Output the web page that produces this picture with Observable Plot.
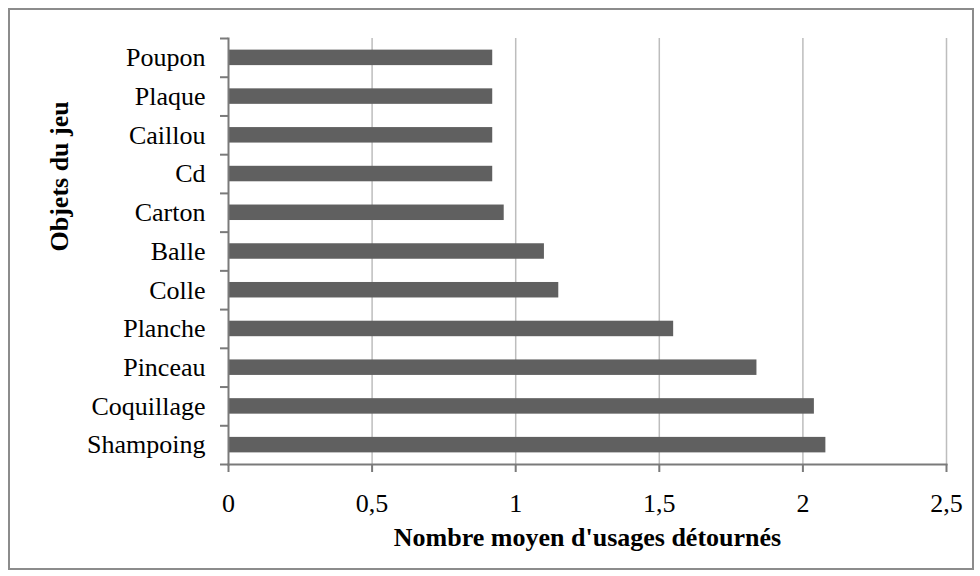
<!DOCTYPE html>
<html>
<head>
<meta charset="utf-8">
<script src="https://cdn.jsdelivr.net/npm/d3@7"></script>
<script src="https://cdn.jsdelivr.net/npm/@observablehq/plot@0.6"></script>
<style>
  html, body { margin: 0; padding: 0; background: #fff; }
  #wrap { position: relative; width: 980px; height: 576px; }
  #border { position: absolute; left: 8px; top: 8px; width: 962px; height: 558px; border: 2px solid #8c8c8c; pointer-events: none; }
  svg text { font-family: "Liberation Serif", "Times New Roman", serif !important; }
</style>
</head>
<body>
<div id="wrap"><div id="border"></div></div>
<script>
const categories = ["Poupon", "Plaque", "Caillou", "Cd", "Carton", "Balle", "Colle", "Planche", "Pinceau", "Coquillage", "Shampoing"];
const values = [0.92, 0.92, 0.92, 0.92, 0.96, 1.10, 1.15, 1.55, 1.84, 2.04, 2.08];
const xTicks = [0, 0.5, 1, 1.5, 2, 2.5];
const xTitle = "Nombre moyen d'usages détournés";
const yTitle = "Objets du jeu";

const data = categories.map((c, i) => ({ cat: c, value: values[i] }));

const W = 980, H = 576, mL = 228, mR = 34, mT = 38, mB = 112;
const step = (H - mT - mB) / categories.length;
const font = "Liberation Serif";
const axisGray = "#7a7a7a";

const chart = Plot.plot({
  width: W, height: H,
  marginLeft: mL, marginRight: mR, marginTop: mT, marginBottom: mB,
  style: { fontFamily: font, fontSize: "26px", color: "#000", background: "transparent", overflow: "visible" },
  x: { domain: [0, 2.5] },
  y: { domain: categories, paddingInner: 0.6, paddingOuter: 0.3, round: false, label: null },
  marks: [
    Plot.gridX(xTicks.filter(t => t > 0), { stroke: "#bdbdbd", strokeOpacity: 1, strokeWidth: 1.5 }),
    Plot.barX(data, { x: "value", y: "cat", fill: "#606060" }),
    Plot.frame({ anchor: "bottom", stroke: axisGray, strokeWidth: 2 }),
    Plot.frame({ anchor: "left", stroke: axisGray, strokeWidth: 2 }),
    Plot.axisX({ ticks: xTicks, tickFormat: d => String(d).replace(".", ","), tickSize: 8, tickPadding: 21, stroke: axisGray, strokeWidth: 2, strokeOpacity: 1, fontSize: 26, fontFamily: font, fill: "#000", label: null }),
    Plot.axisY({ tickSize: 0, tickPadding: 23, fontSize: 26, fontFamily: font, fill: "#000", label: null }),
    // category boundary ticks (between bands), like the original's y axis
    Plot.axisY({ tickSize: 8, tickFormat: () => "", dy: -step / 2, stroke: axisGray, strokeWidth: 2, strokeOpacity: 1, label: null }),
    Plot.axisY({ ticks: [categories[categories.length - 1]], tickSize: 8, tickFormat: () => "", dy: step / 2, stroke: axisGray, strokeWidth: 2, strokeOpacity: 1, label: null }),
    Plot.text([xTitle], { frameAnchor: "bottom", dy: 73, lineAnchor: "middle", fontWeight: "bold", fontSize: 26, fontFamily: font, fill: "#000" }),
    Plot.text([yTitle], { frameAnchor: "left", dx: 59 - mL, rotate: -90, lineAnchor: "middle", fontWeight: "bold", fontSize: 26, fontFamily: font, fill: "#000" })
  ]
});
document.getElementById("wrap").appendChild(chart);
</script>
</body>
</html>
